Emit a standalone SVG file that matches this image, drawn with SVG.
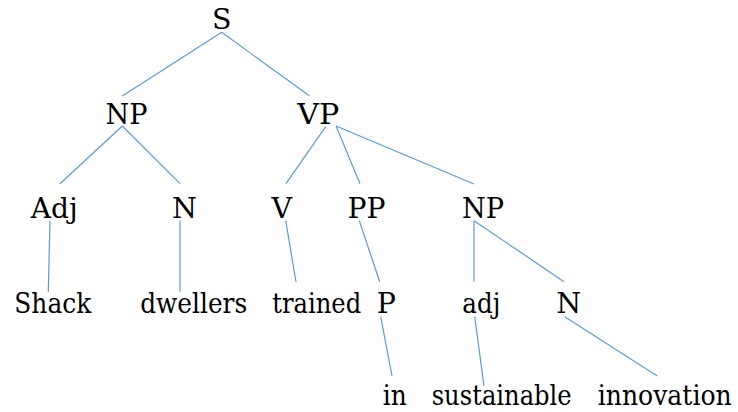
<svg xmlns="http://www.w3.org/2000/svg" width="738" height="412" viewBox="0 0 738 412">
  <style>
    .lbl { font-family: "DejaVu Serif", serif; font-size: 28.5px; fill: #000; text-anchor: middle; }
    .edge { stroke: #5b9bd5; stroke-width: 1.2; fill: none; }
  </style>
  <rect width="738" height="412" fill="#fff"/>
  <g id="connectors">
    <line class="edge" x1="221.7" y1="32.3" x2="122.3" y2="96"/>
    <line class="edge" x1="221.7" y1="32.3" x2="309.3" y2="95.7"/>
    <line class="edge" x1="122.3" y1="126" x2="60" y2="183.7"/>
    <line class="edge" x1="122.3" y1="126" x2="180" y2="183.7"/>
    <line class="edge" x1="325.7" y1="126.7" x2="286" y2="183.7"/>
    <line class="edge" x1="336" y1="126" x2="360" y2="183.7"/>
    <line class="edge" x1="336" y1="126" x2="474" y2="184"/>
    <line class="edge" x1="50" y1="220.7" x2="48.3" y2="291.7"/>
    <line class="edge" x1="180" y1="220.7" x2="180" y2="291.7"/>
    <line class="edge" x1="285.7" y1="220.7" x2="296" y2="282"/>
    <line class="edge" x1="359.3" y1="220.7" x2="379.7" y2="281.7"/>
    <line class="edge" x1="474" y1="220.7" x2="474" y2="281.7"/>
    <line class="edge" x1="474" y1="220.7" x2="564" y2="281.7"/>
    <line class="edge" x1="380.7" y1="316.7" x2="392" y2="376"/>
    <line class="edge" x1="474.7" y1="316.7" x2="484" y2="386"/>
    <line class="edge" x1="564.7" y1="316.7" x2="657.3" y2="376"/>
  </g>
  <!-- word widths are pinned with textLength so the serif face keeps the set spacing -->
  <g id="n-S"><text class="lbl" x="221.7" y="29">S</text></g>
  <g id="n-NP1"><text class="lbl" x="126.4" y="124" textLength="42" lengthAdjust="spacingAndGlyphs">NP</text></g>
  <g id="n-VP"><text class="lbl" x="318.3" y="124" textLength="42" lengthAdjust="spacingAndGlyphs">VP</text></g>
  <g id="n-Adj"><text class="lbl" x="54.2" y="218" textLength="47" lengthAdjust="spacingAndGlyphs">Adj</text></g>
  <g id="n-N1"><text class="lbl" x="184.5" y="218">N</text></g>
  <g id="n-V"><text class="lbl" x="281.7" y="218">V</text></g>
  <g id="n-PP"><text class="lbl" x="366.5" y="218" textLength="38" lengthAdjust="spacingAndGlyphs">PP</text></g>
  <g id="n-NP2"><text class="lbl" x="483" y="218" textLength="42" lengthAdjust="spacingAndGlyphs">NP</text></g>
  <g id="n-Shack"><text class="lbl" x="52.8" y="313" textLength="77" lengthAdjust="spacingAndGlyphs">Shack</text></g>
  <g id="n-dwellers"><text class="lbl" x="193.7" y="313" textLength="107" lengthAdjust="spacingAndGlyphs">dwellers</text></g>
  <g id="n-trained"><text class="lbl" x="316.7" y="313" textLength="89" lengthAdjust="spacingAndGlyphs">trained</text></g>
  <g id="n-P"><text class="lbl" x="386.3" y="313">P</text></g>
  <g id="n-adj"><text class="lbl" x="481.3" y="313" textLength="38" lengthAdjust="spacingAndGlyphs">adj</text></g>
  <g id="n-N2"><text class="lbl" x="568.8" y="313">N</text></g>
  <g id="n-in"><text class="lbl" x="394.7" y="405" textLength="24" lengthAdjust="spacingAndGlyphs">in</text></g>
  <g id="n-sustainable"><text class="lbl" x="501.7" y="405" textLength="140" lengthAdjust="spacingAndGlyphs">sustainable</text></g>
  <g id="n-innovation"><text class="lbl" x="664.7" y="405" textLength="134" lengthAdjust="spacingAndGlyphs">innovation</text></g>
</svg>
